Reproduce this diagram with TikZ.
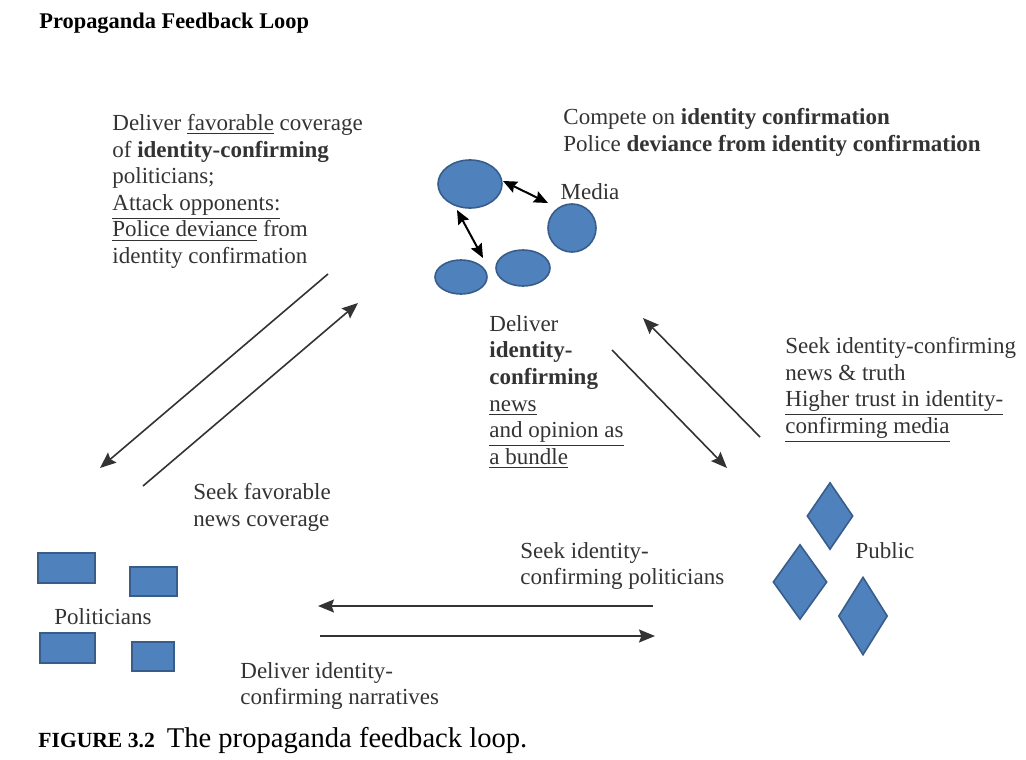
\documentclass[tikz,border=0pt]{standalone}
\usepackage{fontspec}
\setmainfont{Liberation Serif}
\usetikzlibrary{shapes.geometric,arrows.meta}

\definecolor{shapefill}{HTML}{4F81BD}
\definecolor{shapeedge}{HTML}{385D8A}
\definecolor{inkgray}{HTML}{333333}

\newcommand{\undl}[1]{\underline{#1}}

\tikzset{
    blob/.style={draw=shapeedge, fill=shapefill, line width=0.8pt, inner sep=0pt},
    txt/.style={inner sep=0pt, anchor=north west, align=left, text=inkgray,
        font=\fontsize{11.5}{13.3}\selectfont},
    flow/.style={draw=inkgray, line width=0.8pt, -{Stealth[length=8pt,width=6.5pt,inset=1.2pt]}},
    twoway/.style={draw=black, line width=1pt, {Stealth[length=7pt,width=6pt,inset=1pt]}-{Stealth[length=7pt,width=6pt,inset=1pt]}}
}

\begin{document}
\begin{tikzpicture}[x=0.5pt, y=-0.5pt]
    % Page frame, in pixels of the figure
    \useasboundingbox (0,0) rectangle (1026,759);

    % Title
    \node[txt, text=black, font=\fontsize{11.2}{13}\selectfont\bfseries] (title) at (39,13) {Propaganda Feedback Loop};

    % Media: four blobs
    \node[blob, ellipse, minimum width=32pt, minimum height=24pt] (med1) at (470,184) {};
    \node[blob, circle, minimum size=24pt] (med2) at (572,228) {};
    \node[blob, ellipse, minimum width=26pt, minimum height=17pt] (med3) at (461,277) {};
    \node[blob, ellipse, minimum width=27pt, minimum height=18pt] (med4) at (523,268) {};
    \node[txt, anchor=center] (media) at (590,192) {Media};

    % competition between the media
    \coordinate (m1a) at (503,181);
    \coordinate (m1b) at (548,203);
    \coordinate (m2a) at (457,210);
    \coordinate (m2b) at (483,258);
    \draw[twoway] (m1a) -- (m1b);
    \draw[twoway] (m2a) -- (m2b);

    % Politicians: four boxes
    \node[blob, rectangle, minimum width=28.5pt, minimum height=15pt] (pol1) at (66.5,568) {};
    \node[blob, rectangle, minimum width=23.5pt, minimum height=14.5pt] (pol2) at (153.5,581.5) {};
    \node[blob, rectangle, minimum width=27.5pt, minimum height=15pt] (pol3) at (67.5,648) {};
    \node[blob, rectangle, minimum width=21pt, minimum height=14.5pt] (pol4) at (153,656.5) {};
    \node[txt, anchor=center] (politicians) at (103,617) {Politicians};

    % Public: three diamonds
    \node[blob, diamond, minimum width=23pt, minimum height=33.5pt] (pub1) at (830,516) {};
    \node[blob, diamond, minimum width=27pt, minimum height=37.5pt] (pub2) at (800,582) {};
    \node[blob, diamond, minimum width=24.5pt, minimum height=39pt] (pub3) at (863,616) {};
    \node[txt, anchor=center] (public) at (885,551) {Public};

    % Labels of the flows
    \node[txt] (coverage) at (112,114) {Deliver \undl{favorable} coverage\\
        of \textbf{identity-confirming}\\
        politicians;\\
        \undl{Attack opponents:}\\
        \undl{Police deviance} from\\
        identity confirmation};
    \node[txt] (compete) at (563,108) {Compete on \textbf{identity confirmation}\\
        Police \textbf{deviance from identity confirmation}};
    \node[txt] (bundle) at (489,315) {Deliver\\
        \textbf{identity-}\\
        \textbf{confirming}\\
        \undl{news}\\
        \undl{and opinion as}\\
        \undl{a bundle}};
    \node[txt] (truth) at (785,337) {Seek identity-confirming\\
        news \& truth\\
        \undl{Higher trust in identity-}\\
        \undl{confirming media}};
    \node[txt] (seekcov) at (193,483) {Seek favorable\\ news coverage};
    \node[txt] (seekpol) at (520,542) {Seek identity-\\ confirming politicians};
    \node[txt] (narr) at (240,662) {Deliver identity-\\ confirming narratives};

    % End points of the long arrows
    \coordinate (mp1) at (328,274);  % media -> politicians
    \coordinate (mp2) at (100,468);
    \coordinate (pm1) at (143,486);  % politicians -> media
    \coordinate (pm2) at (358,303);
    \coordinate (mu1) at (612,350);  % media -> public
    \coordinate (mu2) at (727,468);
    \coordinate (um1) at (760,437);  % public -> media
    \coordinate (um2) at (643,318);
    \coordinate (up1) at (653,606);  % public -> politicians
    \coordinate (up2) at (318,606);
    \coordinate (pu1) at (320,636);  % politicians -> public
    \coordinate (pu2) at (655,636);

    \draw[flow] (mp1) -- (mp2);
    \draw[flow] (pm1) -- (pm2);
    \draw[flow] (mu1) -- (mu2);
    \draw[flow] (um1) -- (um2);
    \draw[flow] (up1) -- (up2);
    \draw[flow] (pu1) -- (pu2);

    % Caption
    \node[txt, anchor=base west, text=black] (caption) at (38,747) {{\fontsize{10.8}{13}\selectfont\bfseries FIGURE 3.2}\hspace{6pt}{\fontsize{14.3}{17}\selectfont The propaganda feedback loop.}};
\end{tikzpicture}
\end{document}
